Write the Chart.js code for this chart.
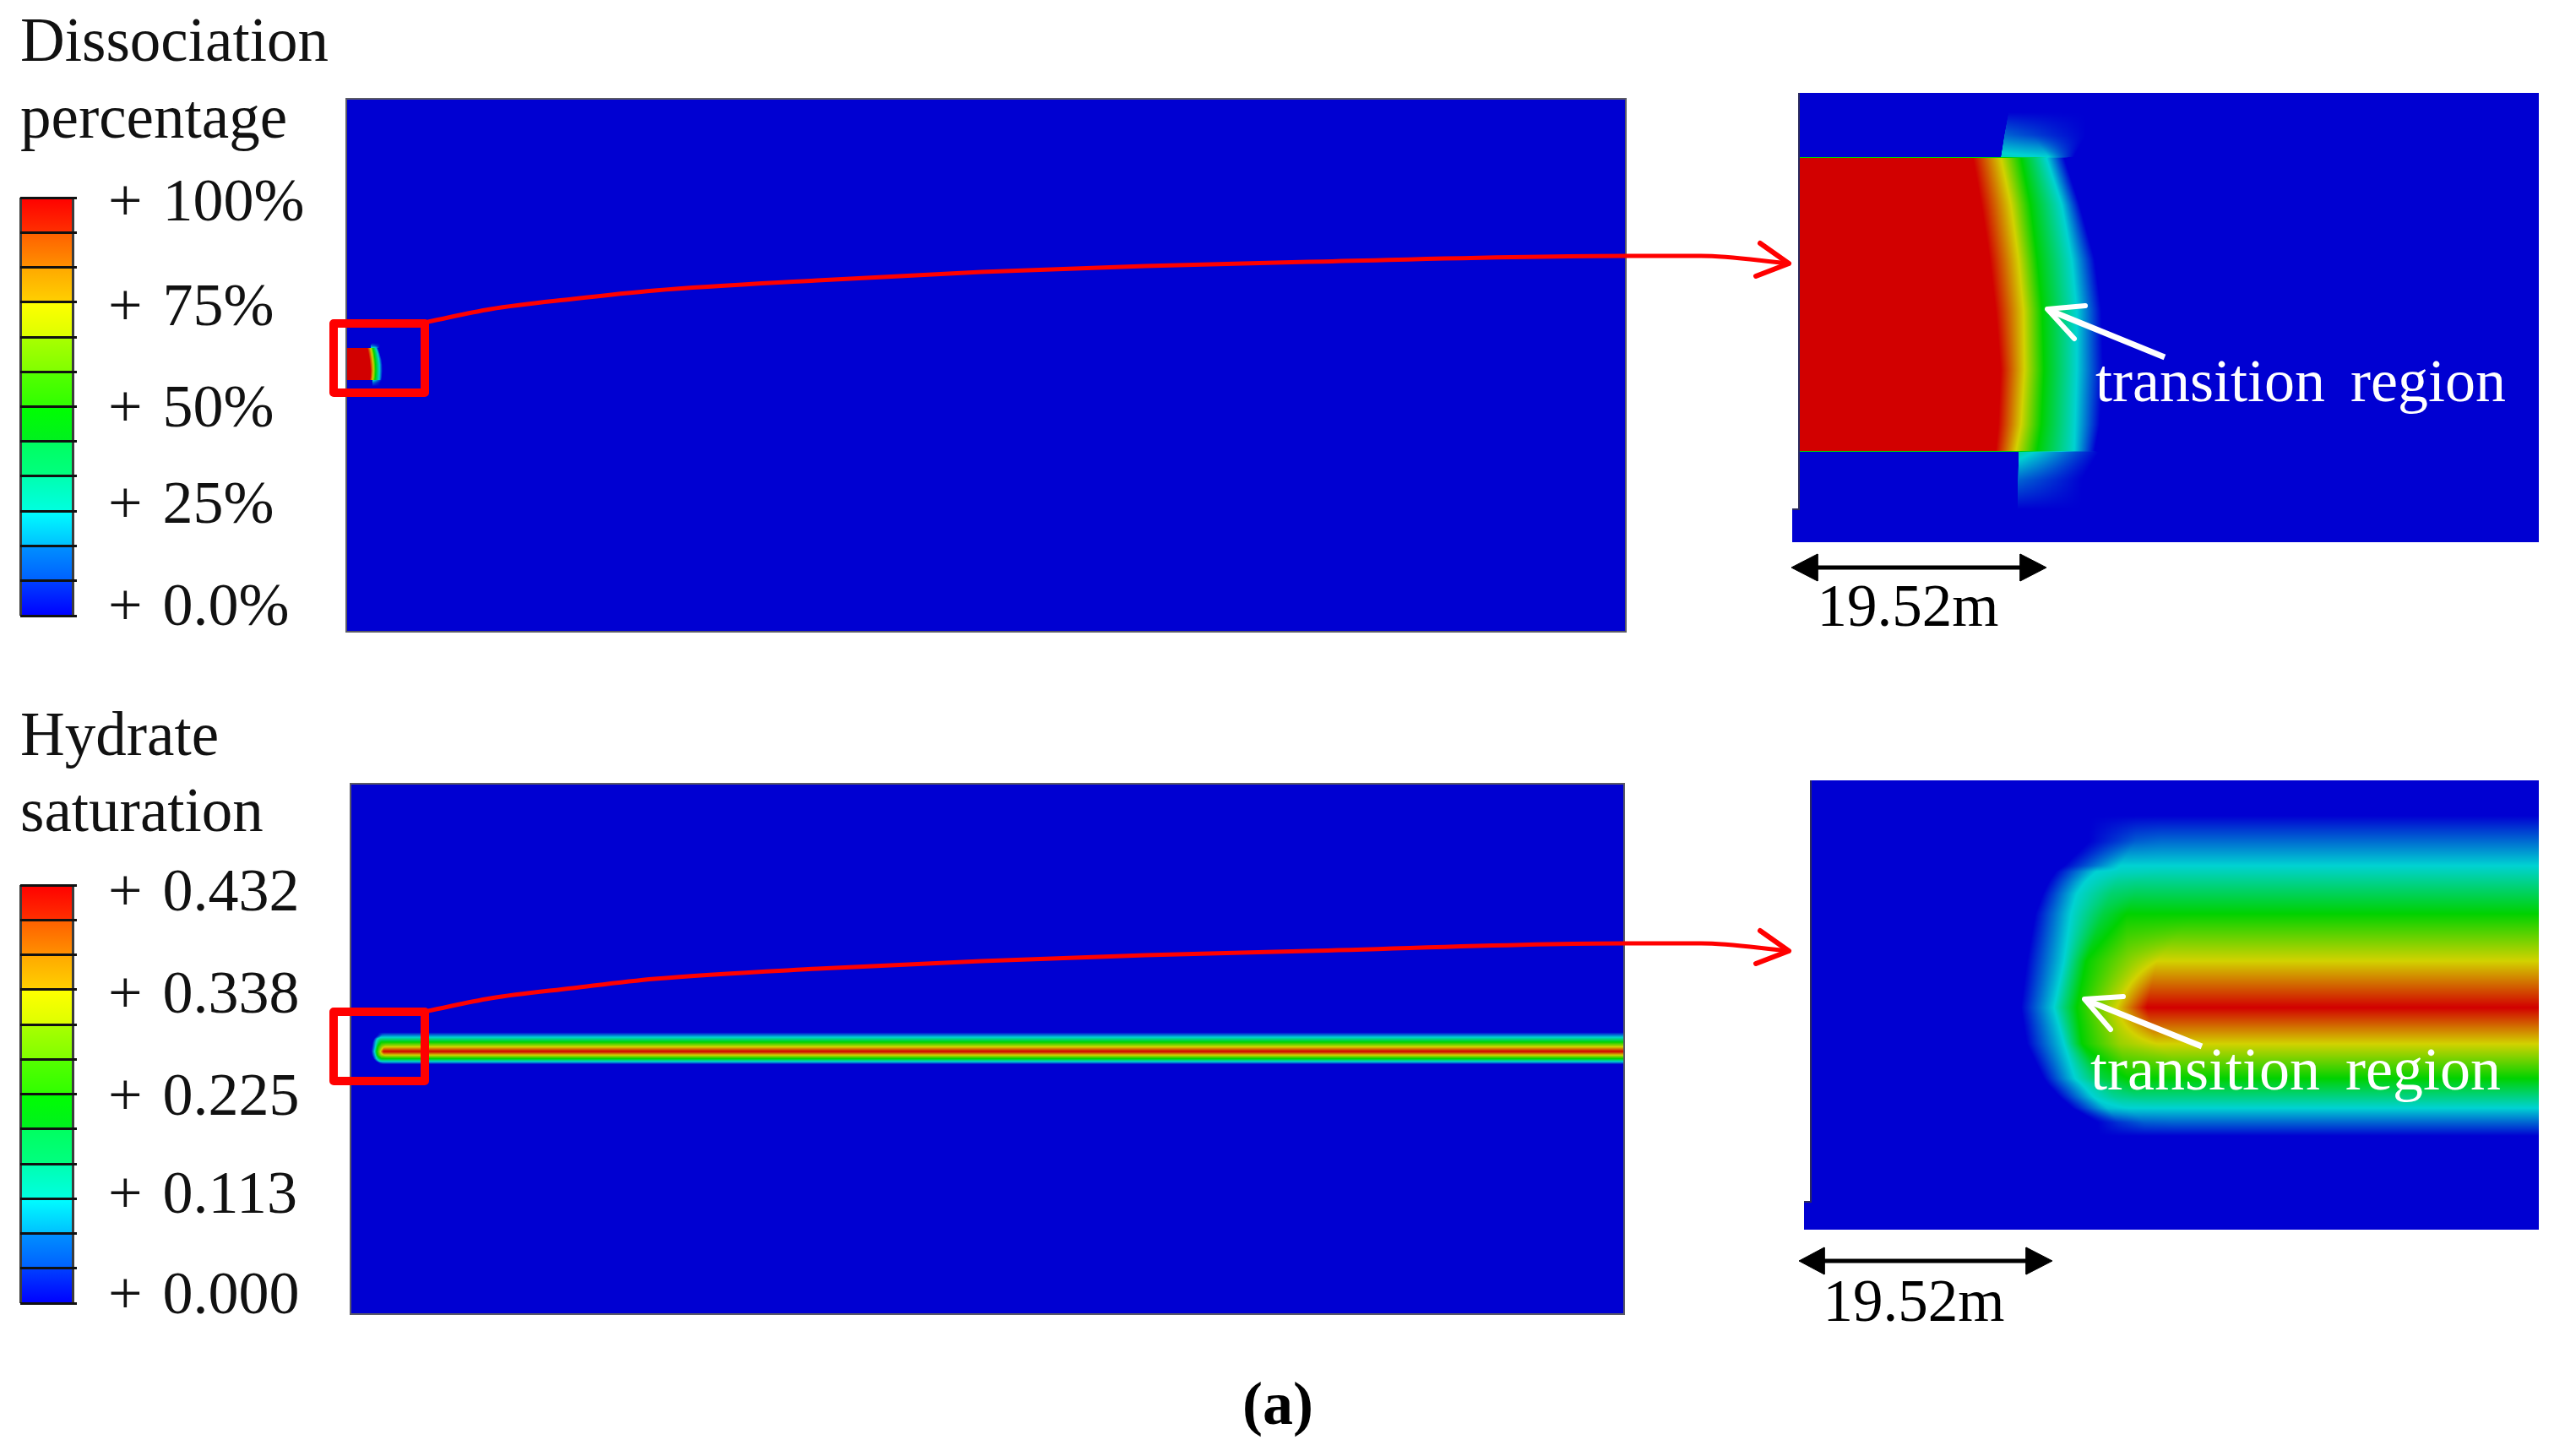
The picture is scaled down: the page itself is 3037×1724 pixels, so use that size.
<!DOCTYPE html>
<html><head><meta charset="utf-8">
<script src="https://cdn.jsdelivr.net/npm/chart.js@4/dist/chart.umd.min.js"></script>
<style>
html,body{margin:0;padding:0;background:#fff;width:3037px;height:1724px;overflow:hidden}
canvas{position:absolute;display:block}
#mainTop,#mainBottom{outline:2px solid #5a5a66}
</style></head><body>
<canvas id="legendTop" width="400" height="760" style="left:0;top:0;width:400px;height:760px"></canvas>
<canvas id="legendBottom" width="400" height="754" style="left:0;top:820px;width:400px;height:754px"></canvas>
<canvas id="mainTop" width="1513" height="629" style="left:411px;top:118px;width:1513px;height:629px"></canvas>
<canvas id="mainBottom" width="1506" height="626" style="left:416px;top:929px;width:1506px;height:626px"></canvas>
<canvas id="zoomTop" width="884" height="532" style="left:2122px;top:110px;width:884px;height:532px"></canvas>
<canvas id="zoomBottom" width="870" height="532" style="left:2136px;top:924px;width:870px;height:532px"></canvas>
<canvas id="overlay" width="3037" height="1724" style="left:0;top:0;width:3037px;height:1724px"></canvas>
<script>
// ---------- legend data ----------
const legendTitleTop = ['Dissociation', 'percentage'];
const legendTitleBottom = ['Hydrate', 'saturation'];
const tickLabelsTop = ['+ 0.0%', '+ 25%', '+ 50%', '+ 75%', '+ 100%'];
const tickLabelsBottom = ['+ 0.000', '+ 0.113', '+ 0.225', '+ 0.338', '+ 0.432'];
const tickLevelsTop = [0, 25.3, 49.1, 74.1, 100];
const tickLevelsBottom = [0, 24.9, 49.3, 74.6, 100];
const bandEdgesTop = [-2.5, 6.11, 14.72, 23.34, 31.95, 40.56, 49.17, 57.78, 66.39, 75.0, 83.62, 92.23, 100.84];
const bandEdgesBottom = [-2.3, 6.35, 15, 23.64, 32.29, 40.94, 49.59, 58.23, 66.88, 75.53, 84.18, 92.82, 101.47];
const bandLowColor = ['#0000ff','#0060ff','#00c0ff','#00ffe0','#00ff80','#00f020','#30ff00','#80ff00','#ddff00','#ffd000','#ff9000','#ff3000'];
const bandHighColor = ['#0040ff','#0090ff','#00ffff','#00ffb0','#00ff60','#00ff00','#55ff00','#aaff00','#ffff00','#ffa800','#ff6000','#ff0000'];

// ---------- contour field, dissociation (rows of position/level stops) ----------
const dissRowY = [0, 23, 50, 76, 77, 132, 197, 258, 328, 393, 424, 425, 458, 493, 532];
const dissStopX = [
 [248,248.5,275,305,340,876],[248,248.5,275,305,340,876],[243,243.5,275,305,340,876],
 [239,239.5,296,310,325,876],
 [206,239,263,293,314,876],[216,251,274,311,332,876],[226,260,282,323,350,876],
 [233,266,288,329,358,876],[239,267,290,329,360,876],[236,263,287,327,356,876],[233,257,282,326,350,876],
 [260,260.5,296,326,355,876],[259,259.5,285,310,335,876],[259,259.5,285,310,335,876],[259,259.5,285,310,335,876]];
const dissStopV = [
 [0,0,0,0,0,0],[0,0,0,0,0,0],[0,.12,.08,.04,0,0],
 [0,.28,.25,.12,0,0],
 [1,.75,.5,.25,0,0],[1,.75,.5,.25,0,0],[1,.75,.5,.25,0,0],
 [1,.75,.5,.25,0,0],[1,.75,.5,.25,0,0],[1,.75,.5,.25,0,0],[1,.75,.5,.25,0,0],
 [0,.3,.2,.1,0,0],[0,.12,.08,.04,0,0],[0,0,0,0,0,0],[0,0,0,0,0,0]];

// ---------- contour field, hydrate saturation ----------
const hydRowY = [0, 42, 72, 101, 108, 120, 134, 158, 214, 269, 312, 353, 360, 375, 388, 405, 421, 532];
const hydStopX = [
 [330,355,385,416,456,862],[330,355,385,416,456,862],[330,355,385,416,456,862],
 [300,340,366,416,456,862],[290,338,368,416,456,862],[282,325,362,385,456,862],[275,315,356,385,456,862],
 [266,308,346,374,456,862],[256,300,326,376,410,862],[249,288,315,362,398,862],
 [256,300,321,366,410,862],[276,313,345,376,456,862],[281,321,351,376,456,862],[295,335,360,385,456,862],
 [310,351,376,416,456,862],[340,365,395,430,456,862],[340,365,395,430,456,862],[340,365,395,430,456,862]];
const hydStopV = [
 [0,0,0,0,0,0],[0,0,0,0,0,0],[0,.05,.11,.127,.127,.127],
 [0,.15,.25,.25,.25,.25],[0,.25,.27,.28,.28,.28],[0,.25,.32,.333,.333,.333],[0,.25,.37,.395,.395,.395],
 [0,.25,.42,.5,.5,.5],[0,.25,.5,.66,.75,.75],[0,.25,.5,.75,1,1],
 [0,.25,.5,.68,.75,.75],[0,.25,.42,.5,.5,.5],[0,.25,.38,.45,.45,.45],[0,.25,.32,.343,.343,.343],
 [0,.23,.25,.25,.25,.25],[0,.06,.11,.12,.12,.12],[0,0,0,0,0,0],[0,0,0,0,0,0]];

// ---------- annotation data ----------
const curveX = [507, 581, 678, 775, 968, 1162, 1356, 1549, 1925, 2014, 2118];
const curveTopY = [381, 366, 354, 344, 332, 322, 315, 310, 303, 303, 312];
const curveBottomY = [1197, 1182, 1170, 1159, 1147, 1138, 1131, 1126, 1117, 1117, 1126];
const headTopX = [2084, 2118, 2079];
const headTopY = [288, 312, 327];
const headBottomX = [2084, 2118, 2079];
const headBottomY = [1102, 1126, 1141];
const boxTopX = [395, 503, 503, 395, 395];
const boxTopY = [383, 383, 465, 465, 383];
const boxBottomX = [395, 503, 503, 395, 395];
const boxBottomY = [1198, 1198, 1280, 1280, 1198];
const pointerTopX = [2563, 2428];
const pointerTopY = [423, 368];
const pointerTopHeadX = [2469, 2424, 2456];
const pointerTopHeadY = [362, 366, 401];
const pointerBottomX = [2607, 2472];
const pointerBottomY = [1239, 1185];
const pointerBottomHeadX = [2514, 2468, 2499];
const pointerBottomHeadY = [1180, 1183, 1219];
const spanTopX = [2140, 2404];
const spanTopY = [672, 672];
const spanBottomX = [2150, 2410];
const spanBottomY = [1493, 1493];
const spanHeadsTop = [[[2121,2152,2152],[672,656,688]], [[2423,2392,2392],[672,656,688]]];
const spanHeadsBottom = [[[2130,2160,2160],[1493,1477,1509]], [[2430,2399,2399],[1493,1477,1509]]];
const noteText = ['19.52m', '19.52m', 'transition region', 'transition region', '(a)'];
const noteX = [2259, 2266, 2481, 2475, 1513];
const noteY = [741, 1564, 475, 1290, 1686];
const noteAlign = ['center', 'center', 'left', 'left', 'center'];
const noteColor = ['#000', '#000', '#fff', '#fff', '#000'];
const noteWeight = ['normal', 'normal', 'normal', 'normal', 'bold'];
const noteSize = [71, 71, 72, 72, 72];
const noteWordGap = ['0px', '0px', '12px', '12px', '0px'];

const SERIF = '"Liberation Serif","Times New Roman",serif';
Chart.defaults.animation = false;
Chart.defaults.devicePixelRatio = 1;
Chart.defaults.responsive = false;

function pairs(xs, ys){ return xs.map((x,i)=>({x, y: ys[i]})); }

function levelColor(v){
  const M = 210;
  const s = [[0,0,M],[0,M,M],[0,M,0],[M,M,0],[M,0,0]];
  const t = Math.max(0,Math.min(1,v))*4, i = Math.min(3,Math.floor(t)), f = t-i;
  return [0,1,2].map(c=>s[i][c]+(s[i+1][c]-s[i][c])*f);
}

function fieldPlugin(rowY, stopX, stopV, notchY){
  return { id:'field', beforeDatasetsDraw(chart){
    const a = chart.chartArea, X = chart.scales.x, Y = chart.scales.y;
    const W = Math.round(a.right-a.left), H = Math.round(a.bottom-a.top);
    const off = document.createElement('canvas'); off.width = W; off.height = H;
    const g = off.getContext('2d'), img = g.createImageData(W,H), d = img.data;
    const n = stopX[0].length, sx = new Array(n), sv = new Array(n);
    for (let j=0;j<H;j++){
      const yv = Y.getValueForPixel(a.top+j+.5);
      let r = 0;
      while (r < rowY.length-2 && yv > rowY[r+1]) r++;
      const t = Math.max(0,Math.min(1,(yv-rowY[r])/(rowY[r+1]-rowY[r])));
      for (let k=0;k<n;k++){
        sx[k] = stopX[r][k]+(stopX[r+1][k]-stopX[r][k])*t;
        sv[k] = stopV[r][k]+(stopV[r+1][k]-stopV[r][k])*t;
      }
      let k = 0;
      for (let i=0;i<W;i++){
        const o = (j*W+i)*4, xv = X.getValueForPixel(a.left+i+.5);
        if (notchY!==undefined && xv<0 && yv<notchY){ d[o+3]=0; continue; }
        while (k<n-2 && xv>sx[k+1]) k++;
        let v;
        if (xv<=sx[0]) v = sv[0];
        else if (xv>=sx[n-1]) v = sv[n-1];
        else { const w=(xv-sx[k])/(sx[k+1]-sx[k]||1); v = sv[k]+(sv[k+1]-sv[k])*Math.max(0,Math.min(1,w)); }
        const c = levelColor(v);
        d[o]=c[0]; d[o+1]=c[1]; d[o+2]=c[2]; d[o+3]=255;
      }
    }
    g.putImageData(img,0,0);
    chart.ctx.drawImage(off,a.left,a.top);
  }};
}

function fieldChart(id, xMin, xMax, yMin, yMax, rowY, stopX, stopV, notchY, edgeX, edgeY){
  const datasets = edgeX ? [{type:'line', data:pairs(edgeX,edgeY), borderColor:'#2a2a5e', borderWidth:2, pointRadius:0, fill:false, tension:0}] : [];
  new Chart(document.getElementById(id), {
    type:'line',
    data:{datasets},
    options:{
      parsing:false, layout:{padding:0},
      plugins:{legend:{display:false},title:{display:false},tooltip:{enabled:false}},
      scales:{
        x:{type:'linear',display:false,min:xMin,max:xMax},
        y:{type:'linear',display:false,min:yMin,max:yMax,reverse:true}
      }
    },
    plugins:[fieldPlugin(rowY,stopX,stopV,notchY)]
  });
}

const tickGapPlugin = { id:'tickGap', beforeDraw(chart){ chart.ctx.wordSpacing = '6px'; } };

function legendChart(id, title, tickLabels, tickLevels, edges, titleLine, padTop, padBottom, bottomGap){
  const centers = edges.slice(0,-1).map((e,i)=>(e+edges[i+1])/2);
  new Chart(document.getElementById(id), {
    type:'bar',
    data:{datasets:[{
      data: centers.map(c=>({x:[0,62], y:c})),
      backgroundColor(ctx){
        const sc = ctx.chart.scales.y, i = ctx.dataIndex;
        if (!sc || i===undefined) return bandHighColor[i||0];
        const y0 = sc.getPixelForValue(edges[i+1]), y1 = sc.getPixelForValue(edges[i]);
        if (!isFinite(y0) || !isFinite(y1)) return bandHighColor[i];
        const g = ctx.chart.ctx.createLinearGradient(0,y0,0,y1);
        g.addColorStop(0,bandHighColor[i]); g.addColorStop(1,bandLowColor[i]);
        return g;
      },
      barPercentage:1, categoryPercentage:1, borderWidth:0
    }]},
    options:{
      indexAxis:'y',
      layout:{padding:{left:24,right:0,top:0,bottom:bottomGap}},
      plugins:{
        legend:{display:false}, tooltip:{enabled:false},
        title:{display:true,text:title,align:'start',color:'#111',
          font:{family:SERIF,size:73,weight:'normal',lineHeight:titleLine},
          padding:{top:padTop,bottom:padBottom}}
      },
      scales:{
        x:{type:'linear',min:0,max:67,position:'bottom',
          afterBuildTicks(ax){ax.ticks=[{value:0},{value:62}];},
          afterFit(ax){ax.height=0;ax.paddingLeft=0;ax.paddingRight=0;},
          ticks:{display:false},
          border:{display:false},
          grid:{color:'#3c3c3c',lineWidth:3,drawTicks:false,z:1}},
        y:{type:'linear',min:edges[0],max:edges[edges.length-1],position:'right',offset:false,
          afterBuildTicks(ax){ax.ticks=tickLevels.map(value=>({value}));},
          afterFit(ax){ax.width=309;ax.paddingTop=0;ax.paddingBottom=0;},
          ticks:{autoSkip:false,padding:37,labelOffset:4,color:'#111',font:{family:SERIF,size:72},
            callback:(v,i)=>tickLabels[i]},
          border:{display:false},
          grid:{display:false,drawTicks:false,offset:false}},
        edges:{type:'linear',axis:'y',min:edges[0],max:edges[edges.length-1],position:'left',offset:false,
          afterBuildTicks(ax){ax.ticks=edges.map(value=>({value}));},
          afterFit(ax){ax.width=0;ax.paddingTop=0;ax.paddingBottom=0;},
          ticks:{display:false},
          border:{display:false},
          grid:{color:'#111',lineWidth:3,drawTicks:false,z:1,offset:false}}
      }
    },
    plugins:[tickGapPlugin]
  });
}

legendChart('legendTop', legendTitleTop, tickLabelsTop, tickLevelsTop, bandEdgesTop, 91/73, 7.5, 44.5, 31);
legendChart('legendBottom', legendTitleBottom, tickLabelsBottom, tickLevelsBottom, bandEdgesBottom, 90/73, 10, 38, 31);

fieldChart('mainTop', 0, 13000, -2628, 3159, dissRowY, dissStopX, dissStopV);
fieldChart('mainBottom', 0, 15836, -2891, 3369, hydRowY, hydStopX, hydStopV);
fieldChart('zoomTop', -8, 876, 0, 532, dissRowY, dissStopX, dissStopV, 493, [0,0,-8], [0,493,493]);
fieldChart('zoomBottom', -8, 862, 0, 532, hydRowY, hydStopX, hydStopV, 499, [0,0,-8], [0,499,499]);

// ---------- overlay with connectors, frames, arrows and notes ----------
const stroke = (xs,ys,color,width,extra) => Object.assign({data:pairs(xs,ys),borderColor:color,borderWidth:width,pointRadius:0,fill:false,tension:0,borderJoinStyle:'round',borderCapStyle:'round'},extra||{});
const solid = (xs,ys,color) => ({data:pairs(xs.concat(xs[0]),ys.concat(ys[0])),borderColor:color,backgroundColor:color,borderWidth:1,pointRadius:0,fill:'shape',tension:0});
const notesPlugin = { id:'notes', afterDatasetsDraw(chart){
  const c = chart.ctx, X = chart.scales.x, Y = chart.scales.y;
  noteText.forEach((t,i)=>{
    c.save();
    c.font = noteWeight[i]+' '+noteSize[i]+'px '+SERIF;
    c.fillStyle = noteColor[i]; c.textAlign = noteAlign[i]; c.textBaseline = 'alphabetic';
    c.wordSpacing = noteWordGap[i];
    c.fillText(t, X.getPixelForValue(noteX[i]), Y.getPixelForValue(noteY[i]));
    c.restore();
  });
}};
new Chart(document.getElementById('overlay'), {
  type:'line',
  data:{datasets:[
    stroke(curveX,curveTopY,'#ff0000',5,{cubicInterpolationMode:'monotone'}),
    stroke(curveX,curveBottomY,'#ff0000',5,{cubicInterpolationMode:'monotone'}),
    stroke(headTopX,headTopY,'#ff0000',6),
    stroke(headBottomX,headBottomY,'#ff0000',6),
    stroke(boxTopX,boxTopY,'#ff0000',10),
    stroke(boxBottomX,boxBottomY,'#ff0000',10),
    stroke(pointerTopX,pointerTopY,'#ffffff',7,{borderCapStyle:'butt'}),
    stroke(pointerTopHeadX,pointerTopHeadY,'#ffffff',6),
    stroke(pointerBottomX,pointerBottomY,'#ffffff',7,{borderCapStyle:'butt'}),
    stroke(pointerBottomHeadX,pointerBottomHeadY,'#ffffff',6),
    stroke(spanTopX,spanTopY,'#000000',5,{borderCapStyle:'butt'}),
    stroke(spanBottomX,spanBottomY,'#000000',5,{borderCapStyle:'butt'}),
    ...spanHeadsTop.map(h=>solid(h[0],h[1],'#000000')),
    ...spanHeadsBottom.map(h=>solid(h[0],h[1],'#000000'))
  ]},
  options:{
    parsing:false, layout:{padding:0},
    plugins:{legend:{display:false},title:{display:false},tooltip:{enabled:false}},
    scales:{
      x:{type:'linear',display:false,min:0,max:3037},
      y:{type:'linear',display:false,min:0,max:1724,reverse:true}
    }
  },
  plugins:[notesPlugin]
});
</script>
</body></html>
